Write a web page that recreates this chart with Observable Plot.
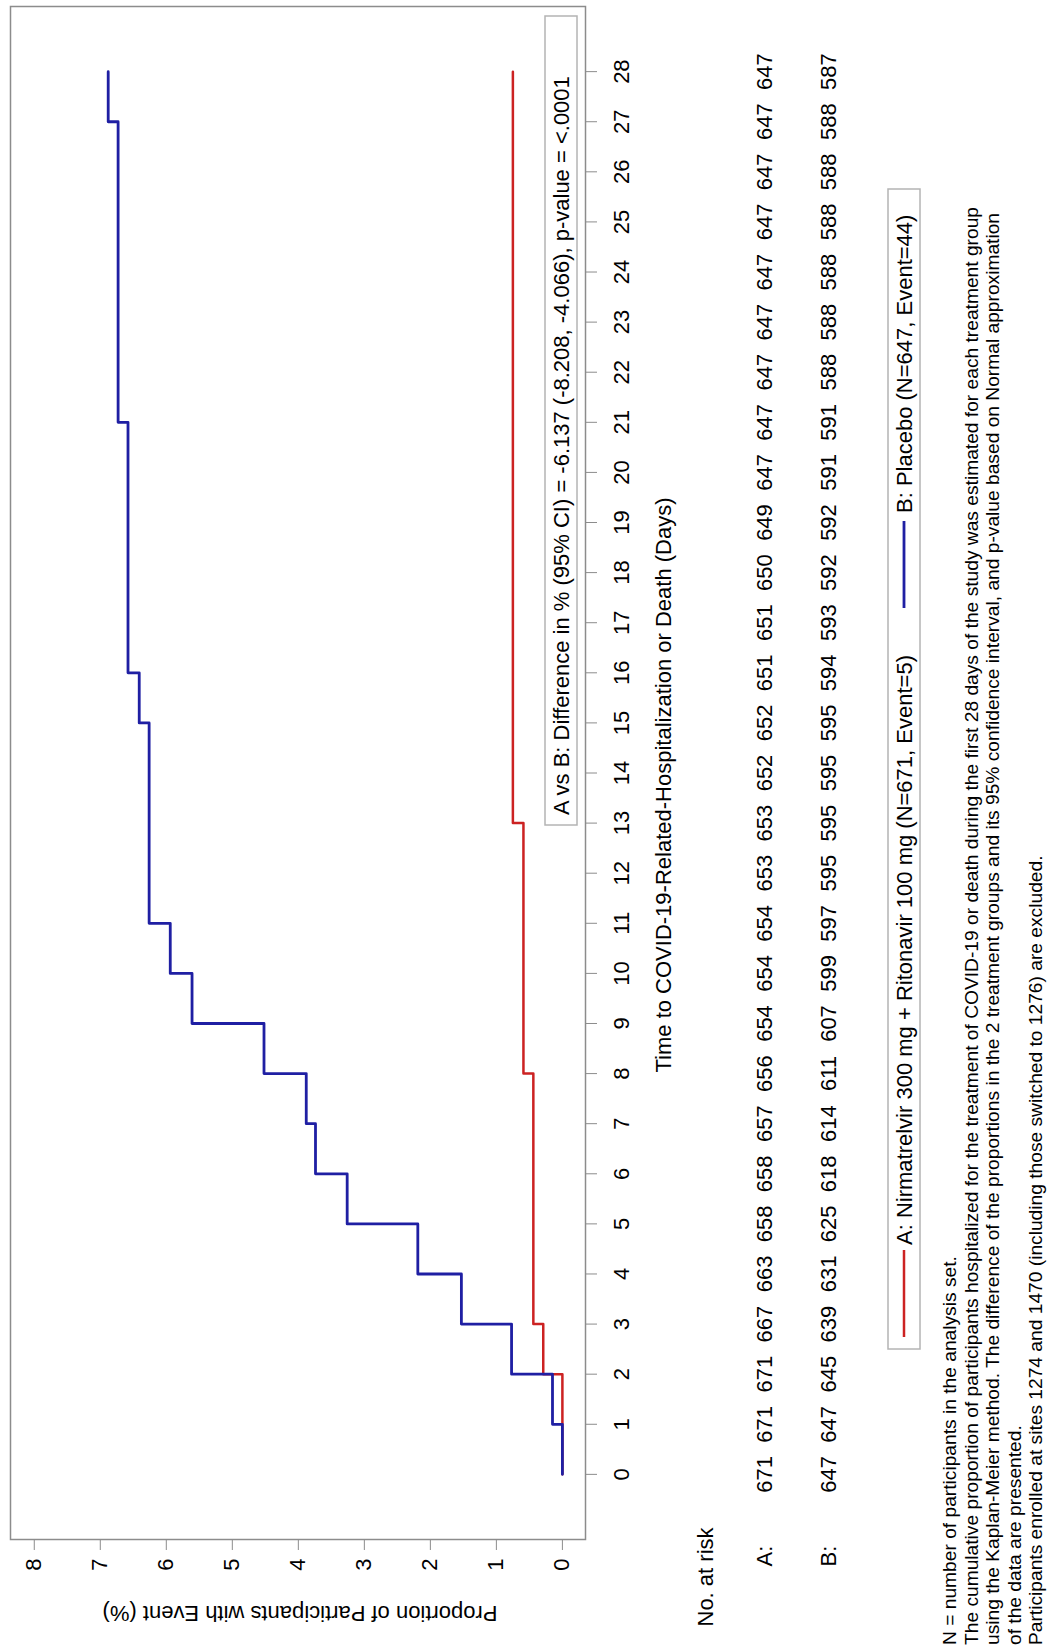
<!DOCTYPE html>
<html><head><meta charset="utf-8">
<script src="https://cdn.jsdelivr.net/npm/d3@7"></script>
<script src="https://cdn.jsdelivr.net/npm/@observablehq/plot@0.6"></script>
<style>
html,body{margin:0;padding:0;background:#fff;overflow:hidden;width:1055px;height:1648px;}
#wrap{position:absolute;left:0;top:0;width:1648px;height:1055px;transform-origin:0 0;transform:translate(0,1648px) rotate(-90deg);background:#fff;}
</style></head><body><div id="wrap"></div>
<script>
// ---- data ----
const days = d3.range(0, 29);
const yTicks = d3.range(0, 9);
const stepDaysA = [0, 2, 3, 8, 13, 28];
const cumA = [0, 0.29, 0.44, 0.59, 0.75, 0.75];
const stepDaysB = [0, 1, 2, 3, 4, 5, 6, 7, 8, 9, 10, 11, 15, 16, 21, 27, 28];
const cumB = [0, 0.15, 0.77, 1.53, 2.19, 3.26, 3.74, 3.88, 4.52, 5.61, 5.94, 6.26, 6.41, 6.58, 6.73, 6.88, 6.88];
const atRiskA = [671,671,671,667,663,658,658,657,656,654,654,654,653,653,652,652,651,651,650,649,647,647,647,647,647,647,647,647,647];
const atRiskB = [647,647,645,639,631,625,618,614,611,607,599,597,595,595,595,595,594,593,592,592,591,591,588,588,588,588,588,588,587];
const legendA = "A: Nirmatrelvir 300 mg + Ritonavir 100 mg (N=671, Event=5)";
const legendB = "B: Placebo (N=647, Event=44)";
const xTitle = "Time to COVID-19-Related-Hospitalization or Death (Days)";
const yTitle = "Proportion of Participants with Event (%)";
const insetText = "A vs B: Difference in % (95% CI) = -6.137 (-8.208, -4.066), p-value = <.0001";
const footnotes = [
  "N = number of participants in the analysis set.",
  "The cumulative proportion of participants hospitalized for the treatment of COVID-19 or death during the first 28 days of the study was estimated for each treatment group",
  "using the Kaplan-Meier method. The difference of the proportions in the 2 treatment groups and its 95% confidence interval, and p-value based on Normal approximation",
  "of the data are presented.",
  "Participants enrolled at sites 1274 and 1470 (including those switched to 1276) are excluded."
];

const kmA = stepDaysA.map((d, i) => ({day: d, p: cumA[i]}));
const kmB = stepDaysB.map((d, i) => ({day: d, p: cumB[i]}));
const riskA = days.map((d, i) => ({day: d, n: atRiskA[i]}));
const riskB = days.map((d, i) => ({day: d, n: atRiskB[i]}));

const RED = "#cc2222", BLUE = "#1f1fa3", GRAY = "#8c8c8c";
const FONT = "'Liberation Sans', Arial, sans-serif";

const chart = Plot.plot({
  width: 1648, height: 1055,
  marginLeft: 108, marginRight: 7, marginTop: 10, marginBottom: 470,
  style: {fontFamily: FONT, fontSize: "22px", color: "#000", background: "#fff", overflow: "visible"},
  x: {domain: [-1.3, 29.3]},
  y: {domain: [-0.35, 8.36]},
  marks: [
    Plot.frame({stroke: GRAY, strokeWidth: 1.5}),
    Plot.axisX({ticks: days, tickSize: 12, tickPadding: 16, stroke: GRAY, label: null, tickFormat: d => String(d)}),
    Plot.axisY({ticks: yTicks, tickSize: 10, tickPadding: 9, stroke: GRAY, label: null, tickFormat: d => String(d)}),
    Plot.line(kmA, {x: "day", y: "p", curve: "step-after", stroke: RED, strokeWidth: 2.5}),
    Plot.line(kmB, {x: "day", y: "p", curve: "step-after", stroke: BLUE, strokeWidth: 2.8}),
    Plot.text(riskA, {x: "day", text: "n", frameAnchor: "bottom", dy: 186, fontSize: 22}),
    Plot.text(riskB, {x: "day", text: "n", frameAnchor: "bottom", dy: 250, fontSize: 22}),
    Plot.text(["No. at risk"], {text: d => d, frameAnchor: "bottom-left", dx: -87, dy: 127, textAnchor: "start", fontSize: 22}),
    Plot.text(["A:"], {text: d => d, frameAnchor: "bottom-left", dx: -27, dy: 186, textAnchor: "start", fontSize: 22}),
    Plot.text(["B:"], {text: d => d, frameAnchor: "bottom-left", dx: -27, dy: 250, textAnchor: "start", fontSize: 22})
  ]
});
document.getElementById("wrap").appendChild(chart);

const svg = d3.select(chart);
const g = svg.append("g").attr("font-family", FONT).attr("fill", "#000").attr("text-anchor", "start");

// inset statistics box
g.append("rect").attr("x", 823).attr("y", 545).attr("width", 809).attr("height", 32)
  .attr("fill", "#fff").attr("stroke", "#b4b4b4").attr("stroke-width", 1.5);
g.append("text").attr("x", 833).attr("y", 561).attr("dominant-baseline", "central")
  .attr("font-size", 22).text(insetText);

// axis titles
g.append("text").attr("x", 863).attr("y", 663).attr("text-anchor", "middle")
  .attr("dominant-baseline", "central").attr("font-size", 22).text(xTitle);
g.append("text").attr("transform", "translate(35,300) rotate(-90)").attr("text-anchor", "middle")
  .attr("dominant-baseline", "central").attr("font-size", 22).text(yTitle);

// legend
const lg = g.append("g");
lg.append("rect").attr("x", 299).attr("y", 888).attr("width", 1160).attr("height", 32)
  .attr("fill", "#fff").attr("stroke", "#b4b4b4").attr("stroke-width", 1.5);
lg.append("line").attr("x1", 311).attr("x2", 398).attr("y1", 904).attr("y2", 904)
  .attr("stroke", RED).attr("stroke-width", 2.5);
lg.append("text").attr("x", 403).attr("y", 904).attr("dominant-baseline", "central")
  .attr("font-size", 22).text(legendA);
lg.append("line").attr("x1", 1040).attr("x2", 1127).attr("y1", 904).attr("y2", 904)
  .attr("stroke", BLUE).attr("stroke-width", 2.8);
lg.append("text").attr("x", 1135).attr("y", 904).attr("dominant-baseline", "central")
  .attr("font-size", 22).text(legendB);

// footnotes
const fy = [950, 971.5, 993, 1014.5, 1036];
const fn = footnotes.map((t, i) => g.append("text").attr("x", 3).attr("y", fy[i])
  .attr("dominant-baseline", "central").attr("font-size", 18).text(t));
const ratio = 1438 / fn[1].node().getComputedTextLength();
fn.forEach(t => {
  const w = t.node().getComputedTextLength();
  t.attr("textLength", w * ratio).attr("lengthAdjust", "spacingAndGlyphs");
});
</script>
</body></html>
